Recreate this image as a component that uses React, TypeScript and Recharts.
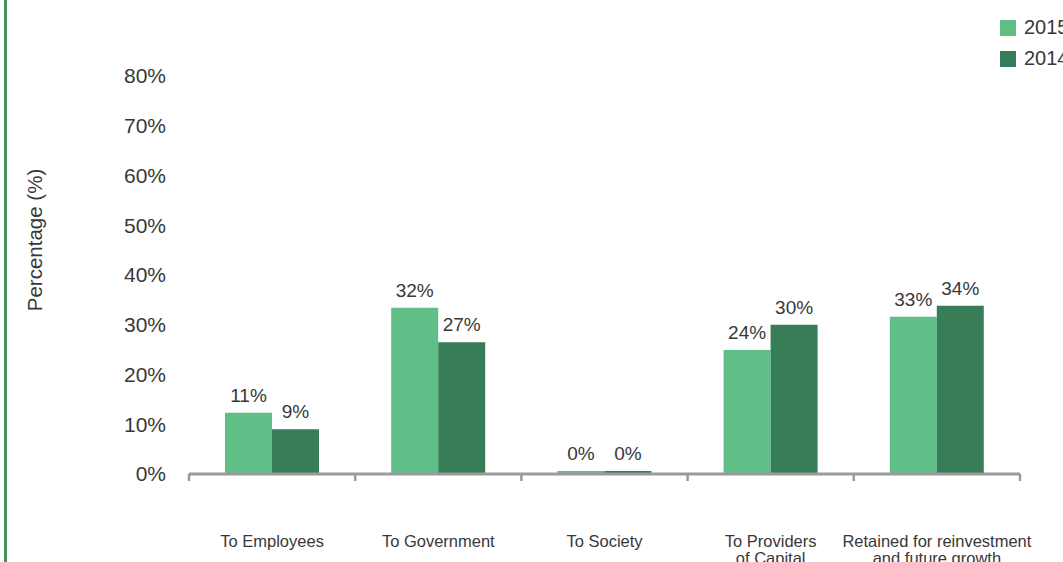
import { BarChart, Bar, XAxis, YAxis, Legend, LabelList } from "recharts";

const CATEGORIES = [
  "To Employees",
  "To Government",
  "To Society",
  "To Providers\nof Capital",
  "Retained for reinvestment\nand future growth",
];
const VALUES_2015 = [12.3, 33.4, 0.6, 24.9, 31.6];
const VALUES_2014 = [9.0, 26.5, 0.6, 30.0, 33.8];
const LABELS_2015 = ["11%", "32%", "0%", "24%", "33%"];
const LABELS_2014 = ["9%", "27%", "0%", "30%", "34%"];
const Y_TICKS = [0, 10, 20, 30, 40, 50, 60, 70, 80];

const W = 1063;
const H = 562;
const Y_AXIS_W = 189;
const MARGIN = { top: 76, right: 43, bottom: 0, left: 0 };
const X_AXIS_H = 88;

const LIGHT = "#5fbf86";
const DARK = "#377d58";
const TEXT = "#383838";
const AXIS = "#9a9a9c";
const FONT = "'Liberation Sans', Arial, sans-serif";

const data = CATEGORIES.map((name, i) => ({
  name,
  v2015: VALUES_2015[i],
  v2014: VALUES_2014[i],
  l2015: LABELS_2015[i],
  l2014: LABELS_2014[i],
}));

// band width of one category on the x axis
const plotW = W - MARGIN.left - MARGIN.right - Y_AXIS_W;
const band = plotW / CATEGORIES.length;

function CategoryTick(props: any) {
  const { x, y, payload, index } = props;
  const lines = String(payload.value).split("\n");
  const last = index === CATEGORIES.length - 1;
  return (
    <g>
      <line x1={x - band / 2} x2={x - band / 2} y1={y} y2={y + 7} stroke={AXIS} strokeWidth={2.5} />
      {last && (
        <line x1={x + band / 2} x2={x + band / 2} y1={y} y2={y + 7} stroke={AXIS} strokeWidth={2.5} />
      )}
      <text x={x} y={y + 73} textAnchor="middle" fill={TEXT} fontSize={16.5} fontFamily={FONT}>
        {lines.map((l, i) => (
          <tspan key={i} x={x} dy={i === 0 ? 0 : 17}>
            {l}
          </tspan>
        ))}
      </text>
    </g>
  );
}

function YLabel(props: any) {
  const { viewBox } = props;
  const cx = viewBox.x + 35;
  const cy = 240;
  return (
    <text
      x={cx}
      y={cy}
      dy="0.35em"
      transform={`rotate(-90, ${cx}, ${cy})`}
      textAnchor="middle"
      fill={TEXT}
      fontSize={20.5}
      fontFamily={FONT}
    >
      Percentage (%)
    </text>
  );
}

function LegendBox() {
  const items = [
    { label: "2015", color: LIGHT },
    { label: "2014", color: DARK },
  ];
  return (
    <div style={{ fontFamily: FONT, fontSize: 20, color: TEXT }}>
      {items.map((it) => (
        <div key={it.label} style={{ display: "flex", alignItems: "center", height: 31, whiteSpace: "nowrap" }}>
          <span style={{ display: "inline-block", width: 16, height: 16, background: it.color, marginRight: 8 }} />
          <span>{it.label}</span>
        </div>
      ))}
    </div>
  );
}

export default function App() {
  return (
    <div
      style={{
        position: "absolute",
        left: 0,
        top: 0,
        width: W,
        height: H,
        overflow: "hidden",
        background: "#fff",
      }}
    >
      <div style={{ position: "absolute", left: 4, top: 0, width: 3, height: H, background: "#44905f" }} />
      <BarChart width={W} height={H} data={data} margin={MARGIN} barSize={47} barGap={0}>
        <XAxis
          dataKey="name"
          height={X_AXIS_H}
          axisLine={{ stroke: AXIS, strokeWidth: 3 }}
          tickLine={false}
          tickSize={0}
          tickMargin={0}
          interval={0}
          tick={<CategoryTick />}
        />
        <YAxis
          width={Y_AXIS_W}
          domain={[0, 80]}
          ticks={Y_TICKS}
          axisLine={false}
          tickLine={false}
          tickSize={0}
          tickMargin={23}
          tickFormatter={(v) => `${v}%`}
          tick={{ fill: TEXT, fontSize: 21, fontFamily: FONT }}
          label={<YLabel />}
        />
        <Legend
          layout="vertical"
          align="center"
          verticalAlign="middle"
          wrapperStyle={{ top: 12, left: 1000, width: 120 }}
          content={<LegendBox />}
        />
        <Bar dataKey="v2015" name="2015" fill={LIGHT} isAnimationActive={false}>
          <LabelList dataKey="l2015" position="top" offset={11} fill={TEXT} fontSize={19} fontFamily={FONT} />
        </Bar>
        <Bar dataKey="v2014" name="2014" fill={DARK} isAnimationActive={false}>
          <LabelList dataKey="l2014" position="top" offset={11} fill={TEXT} fontSize={19} fontFamily={FONT} />
        </Bar>
      </BarChart>
    </div>
  );
}
